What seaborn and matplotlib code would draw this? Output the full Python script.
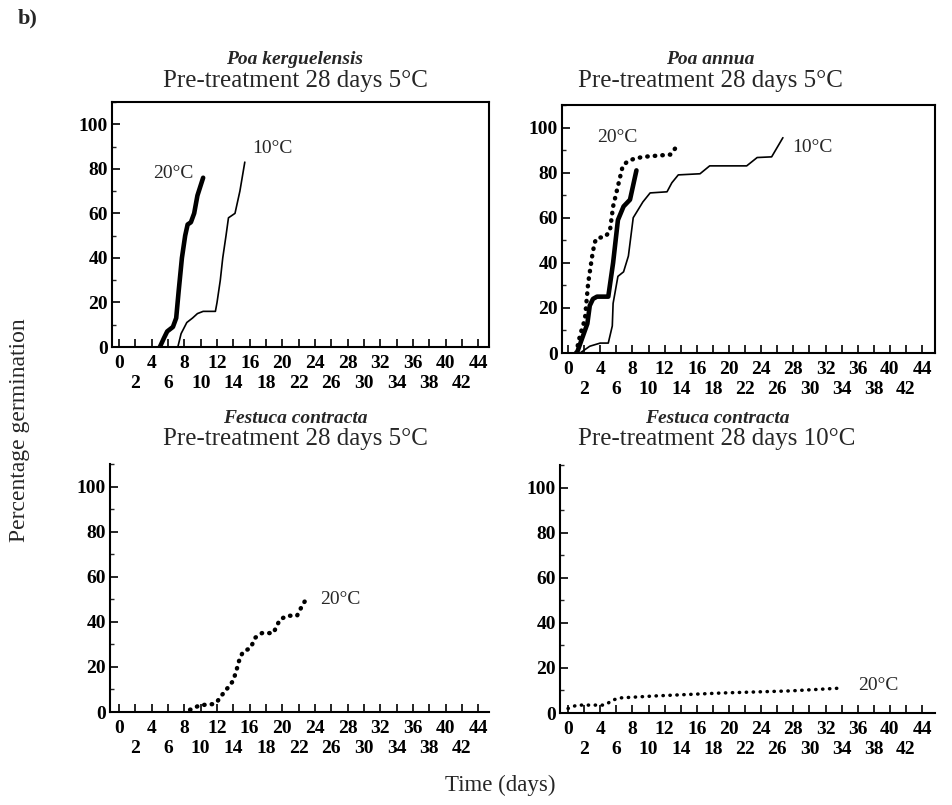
import matplotlib
matplotlib.use("Agg")
import matplotlib.pyplot as plt
import seaborn as sns
from matplotlib.ticker import MultipleLocator, FixedLocator

# Poa kerguelensis, pre-treatment 28 days 5°C
kerg20_days = [5.0, 5.5, 5.9, 6.6, 7.0, 7.3, 7.7, 8.1, 8.4, 8.8, 9.2, 9.6, 10.3]
kerg20_pct = [0, 4, 7, 9, 13, 25, 40, 50, 55, 56, 60, 68, 76]
kerg10_days = [7.2, 7.6, 8.3, 9.0, 9.6, 10.3, 10.8, 11.8, 12.0, 12.4, 12.7, 13.1, 13.4, 14.2, 14.8, 15.4]
kerg10_pct = [0, 6, 11, 13, 15, 16, 16, 16, 20, 30, 40, 50, 58, 60, 70, 83]

# Poa annua, pre-treatment 28 days 5°C
annua20dot_days = [1.0, 1.5, 2.1, 2.5, 3.0, 3.3, 3.6, 4.6, 5.2, 5.6, 6.2, 6.8, 7.4, 8.1, 9.3, 11.0, 12.7, 13.6]
annua20dot_pct = [0, 8, 15, 31, 43, 49, 51, 51.5, 54, 65, 74, 83, 85, 86, 87, 87.5, 88, 92]
annua20_days = [1.1, 1.7, 2.4, 2.7, 3.1, 3.6, 5.0, 5.6, 6.2, 6.9, 7.7, 8.5]
annua20_pct = [0, 6, 13, 21, 24, 25, 25, 40, 59, 65, 68, 81]
annua10_days = [1.5, 2.7, 4.0, 5.0, 5.5, 5.6, 6.2, 6.9, 7.5, 8.1, 8.7, 9.3, 10.2, 12.3, 12.9, 13.7,
                16.4, 17.6, 22.2, 23.5, 25.3, 26.7]
annua10_pct = [0, 3, 4.4, 4.4, 12, 22, 34, 36, 43, 60, 63.5, 67, 71, 71.5, 75.5, 79,
               79.5, 83, 83, 86.7, 87, 95.5]

# Festuca contracta, pre-treatment 28 days 5°C
fest5_days = [8.7, 9.9, 11.5, 12.0, 12.6, 13.6, 14.0, 14.5, 14.8, 15.2, 16.1, 16.7, 17.5, 18.9,
              19.7, 20.6, 21.8, 22.4, 22.9]
fest5_pct = [1, 3, 3.5, 4.5, 7.5, 12, 14, 20, 24, 26.7, 28.4, 33, 35, 35, 41, 42.7, 42.7, 47, 50]

# Festuca contracta, pre-treatment 28 days 10°C
fest10_days = [0.0, 1.1, 4.3, 4.8, 5.6, 6.5, 11.0, 19.3, 27.6, 34.2]
fest10_pct = [2, 3.5, 3.5, 4, 5.8, 6.7, 7.6, 8.9, 9.8, 11.1]

x_ticks_top = list(range(0, 45, 4))     # first label row
x_ticks_low = list(range(2, 43, 4))     # second label row
y_ticks = [0, 20, 40, 60, 80, 100]

sns.set_style("ticks")
plt.rcParams["font.family"] = ["Liberation Serif", "DejaVu Serif"]

W, H = 952, 805
fig = plt.figure(figsize=(W / 100, H / 100), dpi=100)


def px_axes(left, top, right, bottom):
    return fig.add_axes([left / W, 1 - bottom / H, (right - left) / W, (bottom - top) / H])


STYLES = {
    "thick": dict(linewidth=3.3, linestyle="-"),
    "thin": dict(linewidth=1.2, linestyle="-"),
    "dots": dict(linewidth=3.2, linestyle=(0, (0.1, 1.6)), dash_capstyle="round"),
    "smalldots": dict(linewidth=2.5, linestyle=(0, (0.1, 1.9)), dash_capstyle="round"),
}


def draw_panel(ax, curves, labels, xlim, box):
    for days, pct, style in curves:
        sns.lineplot(x=days, y=pct, ax=ax, color="black", estimator=None, sort=False,
                     **STYLES[style])
    for text, x, y in labels:
        ax.text(x, y, text, fontsize=14, ha="center", va="center")
    ax.set_xlim(*xlim)
    ax.set_ylim(0, 110)

    # two rows of day labels: multiples of 4 on top, the others below
    ax.xaxis.set_major_locator(FixedLocator(x_ticks_top))
    ax.set_xticklabels([str(t) for t in x_ticks_top])
    ax.set_xticks(x_ticks_low, [str(t) for t in x_ticks_low], minor=True)

    ax.set_yticks(y_ticks)
    ax.yaxis.set_minor_locator(MultipleLocator(10))
    ax.tick_params(axis="both", which="major", direction="in", length=6, width=1.2,
                   labelsize=14, pad=3, colors="black")
    ax.tick_params(axis="y", which="minor", direction="in", length=3, width=1.0)
    ax.tick_params(axis="x", which="major", pad=6)
    ax.tick_params(axis="x", which="minor", direction="in", length=6, width=1.2,
                   labelsize=14, pad=20, colors="black")
    labs = (ax.get_xticklabels() + ax.get_xticklabels(minor=True) + ax.get_yticklabels())
    for lab in labs:
        lab.set_fontweight("bold")
    ax.set_xlabel("")
    ax.set_ylabel("")
    for side in ["left", "bottom", "top", "right"]:
        ax.spines[side].set_linewidth(1.5)
        ax.spines[side].set_color("black")
    if not box:
        ax.spines["top"].set_visible(False)
        ax.spines["right"].set_visible(False)


ax_tl = px_axes(112, 102, 489, 347)
draw_panel(ax_tl,
           [(kerg20_days, kerg20_pct, "thick"), (kerg10_days, kerg10_pct, "thin")],
           [("20°C", 6.7, 78), ("10°C", 18.8, 89)],
           (-0.86, 45.3), True)

ax_tr = px_axes(562, 105, 935, 353)
draw_panel(ax_tr,
           [(annua20dot_days, annua20dot_pct, "dots"), (annua20_days, annua20_pct, "thick"),
            (annua10_days, annua10_pct, "thin")],
           [("20°C", 6.1, 95.5), ("10°C", 30.4, 91)],
           (-0.75, 45.6), True)

ax_bl = px_axes(110, 464, 489, 712)
draw_panel(ax_bl,
           [(fest5_days, fest5_pct, "dots")],
           [("20°C", 27.1, 50)],
           (-1.1, 45.3), False)

ax_br = px_axes(560, 465, 935, 713)
draw_panel(ax_br,
           [(fest10_days, fest10_pct, "smalldots")],
           [("20°C", 38.5, 12.4)],
           (-1.0, 45.6), False)

# panel titles
titles = [
    (295, 60, 81, "Poa kerguelensis", "Pre-treatment 28 days 5°C"),
    (710, 60, 81, "Poa annua", "Pre-treatment 28 days 5°C"),
    (295, 418, 439, "Festuca contracta", "Pre-treatment 28 days 5°C"),
    (717, 418, 439, "Festuca contracta", "Pre-treatment 28 days 10°C"),
]
for x, y1, y2, species, sub in titles:
    fig.text(x / W, 1 - y1 / H, species, fontsize=14, fontweight="bold", fontstyle="italic",
             ha="center", va="center")
    fig.text(x / W, 1 - y2 / H, sub, fontsize=18, ha="center", va="center")

fig.text(18 / W, 1 - 18 / H, "b)", fontsize=16, fontweight="bold", ha="left", va="center")
fig.text(20 / W, 1 - 430 / H, "Percentage germination", fontsize=17, rotation=90,
         ha="center", va="center")
fig.text(500 / W, 1 - 785 / H, "Time (days)", fontsize=16.5, ha="center", va="center")

fig.savefig("out.png", dpi=100, facecolor="white")
